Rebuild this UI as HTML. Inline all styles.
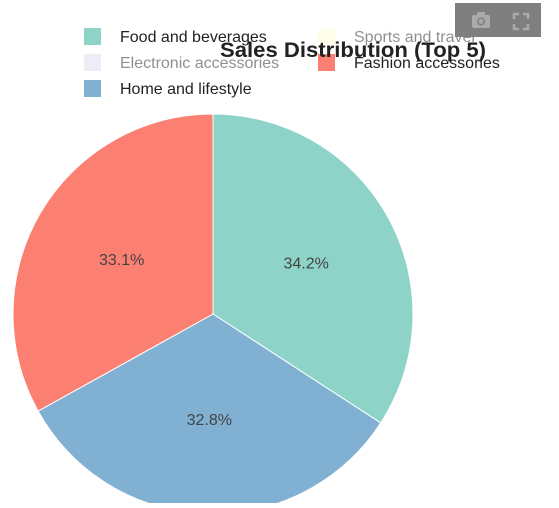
<!DOCTYPE html>
<html><head><meta charset="utf-8"><style>
body{margin:0;width:559px;height:503px;overflow:hidden;background:#fff;font-family:"Liberation Sans",sans-serif}
</style></head><body>
<svg id="c" width="559" height="503">
<g id="slices"></g>
<g id="legend"></g>
<text x="353" y="57" text-anchor="middle" font-size="21" font-weight="bold" fill="#222" textLength="266" lengthAdjust="spacingAndGlyphs">Sales Distribution (Top 5)</text>
<g>
<rect x="455" y="3" width="86" height="34" fill="#7f7f7f"/>
<g fill="#aaa"><rect x="472" y="15" width="18" height="13" rx="2"/><rect x="477" y="12" width="8" height="4"/><circle cx="481" cy="21.5" r="4" fill="#7f7f7f"/><circle cx="481" cy="21.5" r="2.5"/></g>
<g stroke="#aaa" stroke-width="2.5" fill="none"><path d="M514 19v-5h5M523 14h5v5M528 24v5h-5M519 29h-5v-5"/></g>
</g>
</svg>
<script>
const categories=["Food and beverages","Home and lifestyle","Fashion accessories"];
const values=[34.2,32.8,33.1];
const colors=["#8dd3c7","#80b1d3","#fb8072"];
const legendLabels=["Food and beverages","Electronic accessories","Home and lifestyle","Sports and travel","Fashion accessories"];
const legendColors=["#8dd3c7","#dedbec","#80b1d3","#fefed6","#fb8072"];
const legendHidden=[false,true,false,true,false];
const NS="http://www.w3.org/2000/svg";
const cx=213,cy=314,r=200;
const total=values.reduce((a,b)=>a+b,0);
function pt(a,rr){return [cx+rr*Math.sin(a),cy-rr*Math.cos(a)];}
let a0=0;const g=document.getElementById('slices');
values.forEach((v,i)=>{
 const a1=a0+v/total*2*Math.PI;
 const p0=pt(a0,r),p1=pt(a1,r);
 const p=document.createElementNS(NS,'path');
 p.setAttribute('d',`M${cx},${cy}L${p0[0]},${p0[1]}A${r},${r} 0 ${a1-a0>Math.PI?1:0} 1 ${p1[0]},${p1[1]}Z`);
 p.setAttribute('fill',colors[i]);p.setAttribute('stroke','#fff');p.setAttribute('stroke-width','1');
 
 
 g.appendChild(p);
 const m=pt((a0+a1)/2,r*0.53);
 const t=document.createElementNS(NS,'text');
 t.setAttribute('x',m[0]);t.setAttribute('y',m[1]+5);t.setAttribute('text-anchor','middle');
 t.setAttribute('font-size','16');t.setAttribute('fill','#444');
 t.textContent=v.toFixed(1)+'%';
 
 
 g.appendChild(t);
 a0=a1;
});
const lg=document.getElementById('legend');
legendLabels.forEach((l,i)=>{
 const col=Math.floor(i/3),row=i%3;
 const x=col?318:84,y=36+row*26;
 const e=document.createElementNS(NS,'g');
 
 
 if(legendHidden[i])e.setAttribute('opacity','0.5');
 const s=document.createElementNS(NS,'rect');
 s.setAttribute('x',x);s.setAttribute('y',y-8);s.setAttribute('width',17);s.setAttribute('height',17);s.setAttribute('fill',legendColors[i]);
 const t=document.createElementNS(NS,'text');
 t.setAttribute('x',x+36);t.setAttribute('y',y+6);t.setAttribute('font-size','16');t.setAttribute('fill','#222');
 t.textContent=l;
 e.appendChild(s);e.appendChild(t);lg.appendChild(e);
});
</script>
</body></html>
